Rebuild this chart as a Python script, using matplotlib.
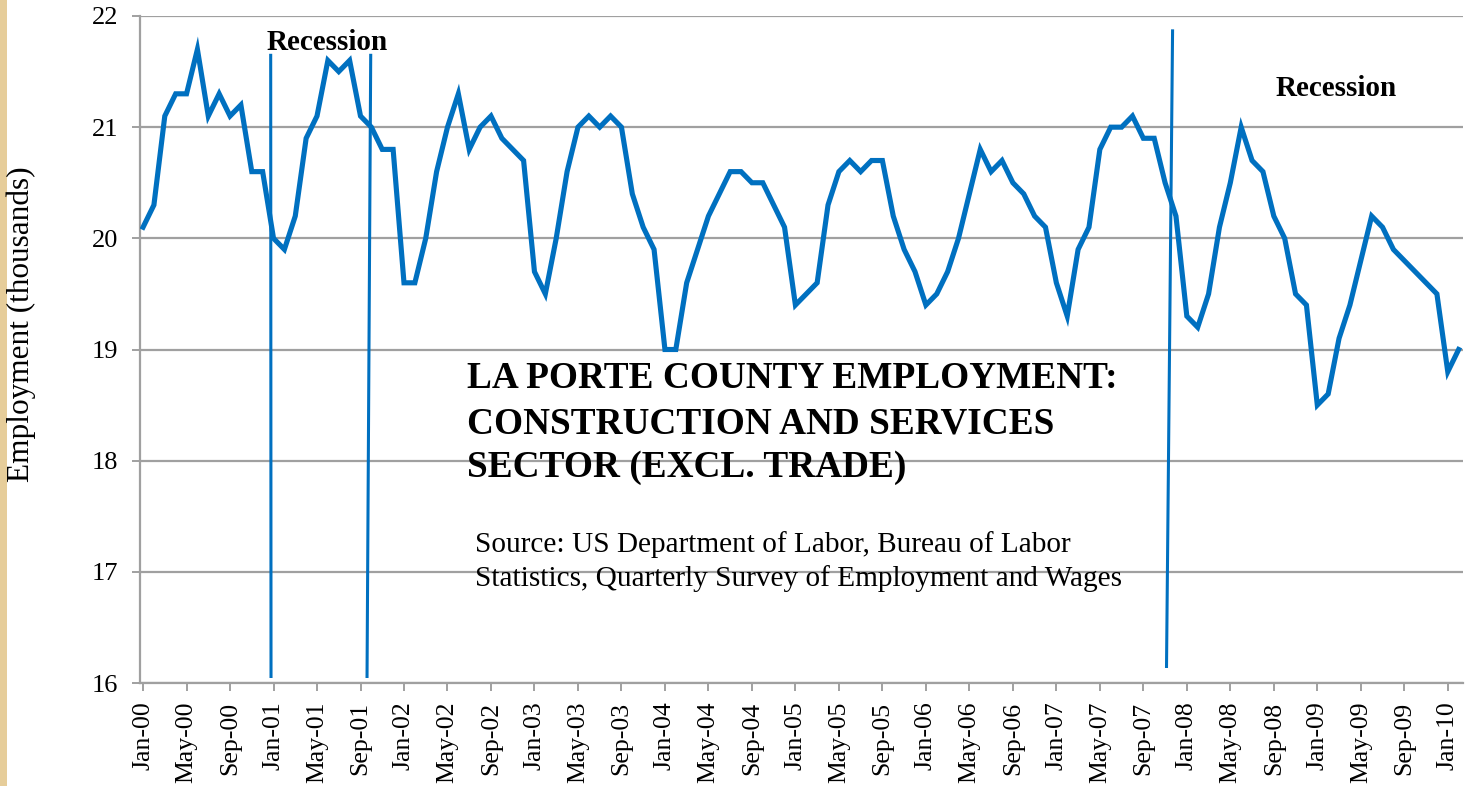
import matplotlib
matplotlib.use("Agg")
import matplotlib.pyplot as plt
from matplotlib.patches import Rectangle

plt.rcParams['font.family'] = ['Liberation Serif', 'DejaVu Serif']

# ---- data ----
employment = [
    20.1, 20.3, 21.1, 21.3, 21.3, 21.7, 21.1, 21.3, 21.1, 21.2, 20.6, 20.6,   # 2000
    20.0, 19.9, 20.2, 20.9, 21.1, 21.6, 21.5, 21.6, 21.1, 21.0, 20.8, 20.8,   # 2001
    19.6, 19.6, 20.0, 20.6, 21.0, 21.3, 20.8, 21.0, 21.1, 20.9, 20.8, 20.7,   # 2002
    19.7, 19.5, 20.0, 20.6, 21.0, 21.1, 21.0, 21.1, 21.0, 20.4, 20.1, 19.9,   # 2003
    19.0, 19.0, 19.6, 19.9, 20.2, 20.4, 20.6, 20.6, 20.5, 20.5, 20.3, 20.1,   # 2004
    19.4, 19.5, 19.6, 20.3, 20.6, 20.7, 20.6, 20.7, 20.7, 20.2, 19.9, 19.7,   # 2005
    19.4, 19.5, 19.7, 20.0, 20.4, 20.8, 20.6, 20.7, 20.5, 20.4, 20.2, 20.1,   # 2006
    19.6, 19.3, 19.9, 20.1, 20.8, 21.0, 21.0, 21.1, 20.9, 20.9, 20.5, 20.2,   # 2007
    19.3, 19.2, 19.5, 20.1, 20.5, 21.0, 20.7, 20.6, 20.2, 20.0, 19.5, 19.4,   # 2008
    18.5, 18.6, 19.1, 19.4, 19.8, 20.2, 20.1, 19.9, 19.8, 19.7, 19.6, 19.5,   # 2009
    18.8, 19.0,                                                               # 2010
]
months = ['Jan', 'Feb', 'Mar', 'Apr', 'May', 'Jun', 'Jul', 'Aug', 'Sep', 'Oct', 'Nov', 'Dec']
years = ['00', '01', '02', '03', '04', '05', '06', '07', '08', '09', '10']
month_labels = [f"{months[i % 12]}-{years[i // 12]}" for i in range(len(employment))]
tick_step = 4
y_ticks = [16, 17, 18, 19, 20, 21, 22]

# recession marker lines (month index at bottom/top, value at bottom/top)
recession_x = [(11.77, 11.74), (20.6, 20.94), (94.13, 94.69)]
recession_y = [(16.045, 21.66), (16.045, 21.66), (16.135, 21.88)]
recession_labels = [("Recession", 16.9, 21.76), ("Recession", 109.7, 21.35)]

title_lines = ["LA PORTE COUNTY EMPLOYMENT:",
               "CONSTRUCTION AND SERVICES",
               "SECTOR (EXCL. TRADE)"]
source_lines = ["Source: US Department of Labor, Bureau of Labor",
                "Statistics, Quarterly Survey of Employment and Wages"]
y_label = "Employment (thousands)"

W, H = 1465, 786
fig = plt.figure(figsize=(W / 100, H / 100), dpi=100)
fig.patch.set_facecolor('white')

# beige strip at left edge
fig.patches.append(Rectangle((0, 0), 7 / W, 1, transform=fig.transFigure,
                             facecolor='#E6CD9A', edgecolor='none'))

ax = fig.add_axes([140 / W, 1 - 683 / H, (1463 - 140) / W, (683 - 16) / H])
blue = '#0070C0'
grey = '#A0A0A0'

x = list(range(len(employment)))
ax.plot(x, employment, color=blue, lw=3.7, solid_joinstyle='miter', zorder=3)

for xs, ys in zip(recession_x, recession_y):
    ax.plot(xs, ys, color=blue, lw=2.2, zorder=4, solid_capstyle='butt')

for txt, tx, ty in recession_labels:
    ax.text(tx, ty, txt, ha='center', va='center', fontsize=21,
            fontweight='bold', color='black', zorder=5)

ax.set_xlim(-0.28, 121.4)
ax.set_ylim(16, 22)
ax.set_yticks(y_ticks)
ax.set_yticklabels([str(v) for v in y_ticks])
ax.set_xticks(x[::tick_step])
ax.set_xticklabels(month_labels[::tick_step], rotation=90)

ax.grid(axis='y', color=grey, lw=1.6, zorder=1)
ax.set_axisbelow(True)
for s in ['top', 'right']:
    ax.spines[s].set_visible(False)
for s in ['left', 'bottom']:
    ax.spines[s].set_color(grey)
    ax.spines[s].set_linewidth(1.6)

ax.tick_params(axis='x', direction='out', length=5.5, width=1.4, color=grey,
               labelsize=18.5, pad=8)
ax.tick_params(axis='y', direction='out', length=5.5, width=1.4, color=grey,
               labelsize=19, pad=10)

# y-axis title, placed in figure pixels
fig.text(21 / W, 1 - 324 / H, y_label, fontsize=22.5, rotation=90,
         ha='center', va='center')

# title and source text, positioned in figure pixels
tb = [388, 433, 477]
for line, yb in zip(title_lines, tb):
    fig.text(467 / W, 1 - yb / H, line, fontsize=26.8, fontweight='bold',
             ha='left', va='baseline')
sb = [552, 586]
for line, yb in zip(source_lines, sb):
    fig.text(475 / W, 1 - yb / H, line, fontsize=21.1, ha='left', va='baseline')

fig.savefig('out.png', dpi=100, facecolor='white')
